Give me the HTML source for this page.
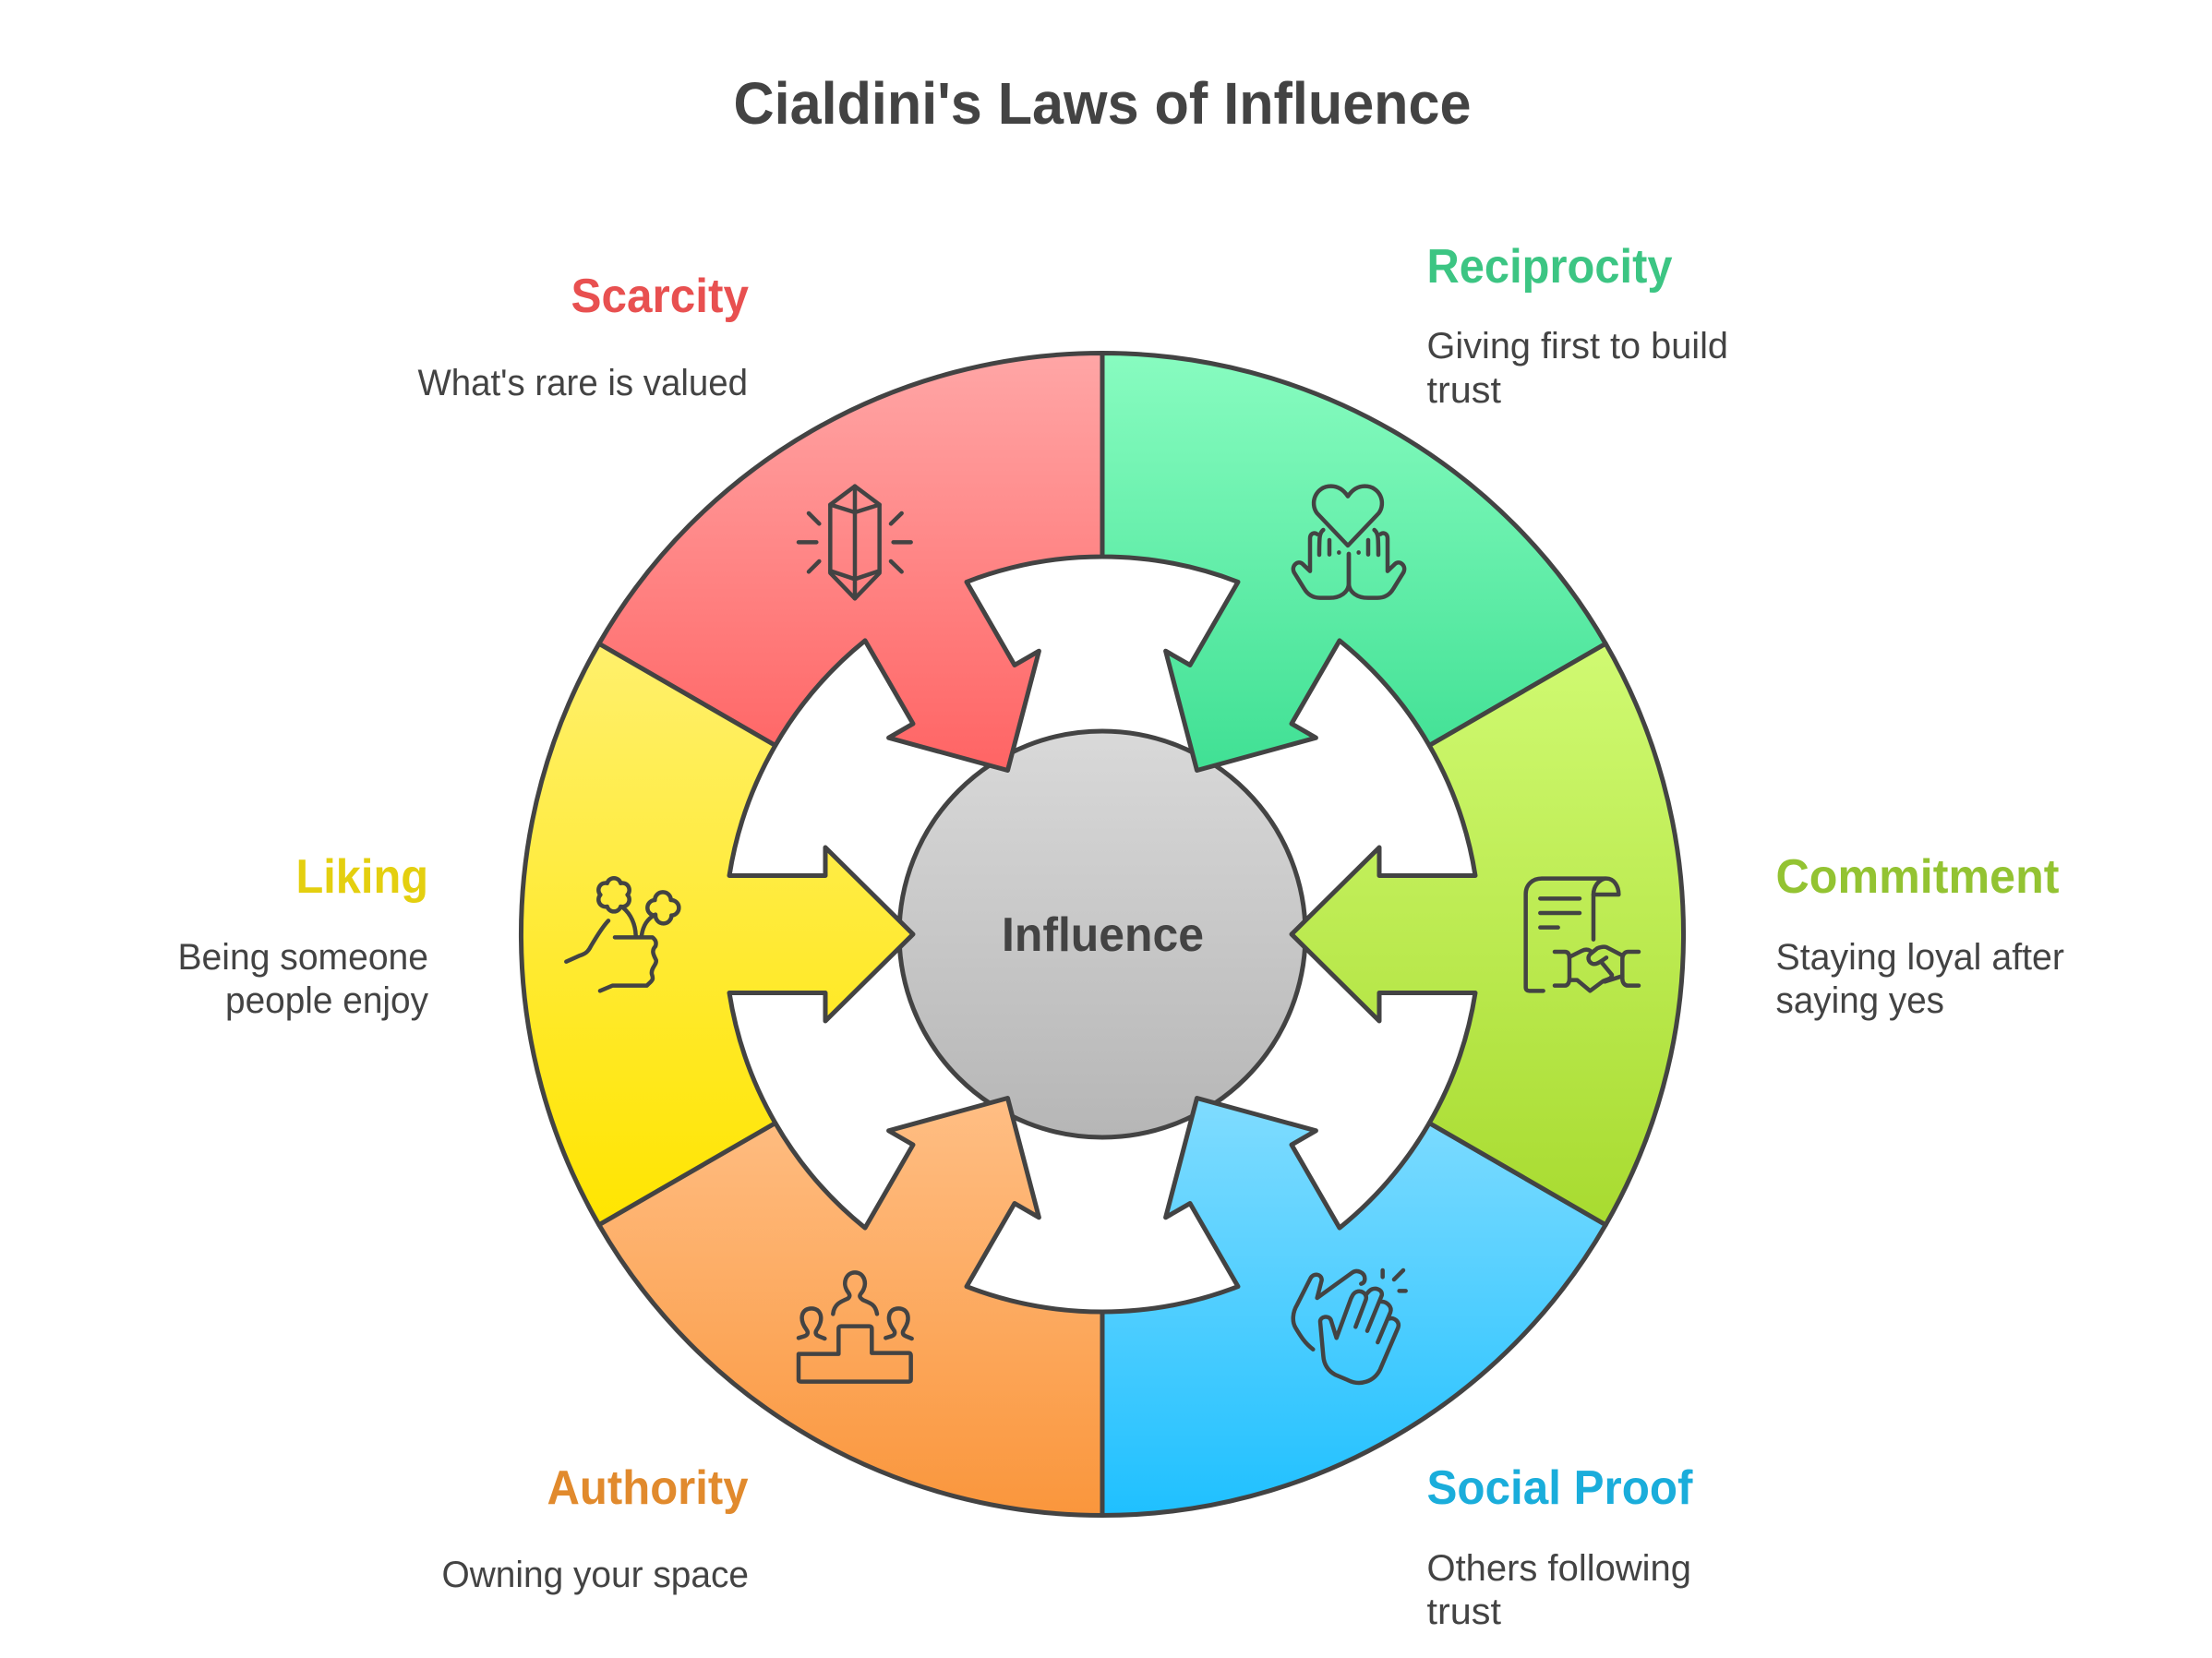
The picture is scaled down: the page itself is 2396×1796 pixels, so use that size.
<!DOCTYPE html>
<html>
<head>
<meta charset="utf-8">
<title>Cialdini's Laws of Influence</title>
<style>
html,body{margin:0;padding:0;background:#fff}
svg{display:block}
text{font-family:"Liberation Sans",sans-serif;white-space:pre}
.t{font-weight:700;font-size:52px}
.d{font-size:40px;fill:#434343}
.i{fill:none;stroke:#434343;stroke-width:13.5;stroke-linecap:round;stroke-linejoin:round}
</style>
</head>
<body>
<svg xmlns="http://www.w3.org/2000/svg" width="2396" height="1796" viewBox="0 0 2396 1796">
<defs>
<linearGradient id="gG" x1="0" y1="0" x2="0" y2="1"><stop offset="0" stop-color="#88fcc0"/><stop offset="1" stop-color="#40e094"/></linearGradient>
<linearGradient id="gR" x1="0" y1="0" x2="0" y2="1"><stop offset="0" stop-color="#ffa6a6"/><stop offset="1" stop-color="#ff6464"/></linearGradient>
<linearGradient id="gL" x1="0" y1="0" x2="0" y2="1"><stop offset="0" stop-color="#d0fa72"/><stop offset="1" stop-color="#a8db30"/></linearGradient>
<linearGradient id="gY" x1="0" y1="0" x2="0" y2="1"><stop offset="0" stop-color="#fff06c"/><stop offset="1" stop-color="#ffe500"/></linearGradient>
<linearGradient id="gB" x1="0" y1="0" x2="0" y2="1"><stop offset="0" stop-color="#1fc0ff"/><stop offset="1" stop-color="#80dcff"/></linearGradient>
<linearGradient id="gO" x1="0" y1="0" x2="0" y2="1"><stop offset="0" stop-color="#fa963c"/><stop offset="1" stop-color="#ffbe84"/></linearGradient>
<linearGradient id="gC" x1="0" y1="0" x2="0" y2="1"><stop offset="0" stop-color="#d9d9d9"/><stop offset="1" stop-color="#b6b6b6"/></linearGradient>
</defs>
<rect width="2396" height="1796" fill="#fff"/>

<text x="794.5" y="134" font-size="64" font-weight="700" fill="#434343" textLength="799" lengthAdjust="spacingAndGlyphs">Cialdini's Laws of Influence</text>

<g transform="translate(1194,1012)" stroke="#434343" stroke-width="5" stroke-linejoin="round">
<circle r="220" fill="url(#gC)"/>
<path fill="url(#gG)" d="M0 -629.5 A629.5 629.5 0 0 1 545.2 -314.75 L354.2 -204.5 A409 409 0 0 0 257 -318.1 L205 -228.05 L231.4 -212.8 L102.5 -177.5 L68.6 -306.8 L95 -291.55 L147 -381.6 A409 409 0 0 0 0 -409 Z"/>
<path fill="url(#gR)" transform="scale(-1,1)" d="M0 -629.5 A629.5 629.5 0 0 1 545.2 -314.75 L354.2 -204.5 A409 409 0 0 0 257 -318.1 L205 -228.05 L231.4 -212.8 L102.5 -177.5 L68.6 -306.8 L95 -291.55 L147 -381.6 A409 409 0 0 0 0 -409 Z"/>
<path fill="url(#gB)" transform="scale(1,-1)" d="M0 -629.5 A629.5 629.5 0 0 1 545.2 -314.75 L354.2 -204.5 A409 409 0 0 0 257 -318.1 L205 -228.05 L231.4 -212.8 L102.5 -177.5 L68.6 -306.8 L95 -291.55 L147 -381.6 A409 409 0 0 0 0 -409 Z"/>
<path fill="url(#gO)" transform="scale(-1,-1)" d="M0 -629.5 A629.5 629.5 0 0 1 545.2 -314.75 L354.2 -204.5 A409 409 0 0 0 257 -318.1 L205 -228.05 L231.4 -212.8 L102.5 -177.5 L68.6 -306.8 L95 -291.55 L147 -381.6 A409 409 0 0 0 0 -409 Z"/>
<path fill="url(#gL)" d="M545.2 -314.75 A629.5 629.5 0 0 1 545.2 314.75 L354.2 204.5 A409 409 0 0 0 404 63.5 L300 63.5 L300 94 L205 0 L300 -94 L300 -63.5 L404 -63.5 A409 409 0 0 0 354.2 -204.5 Z"/>
<path fill="url(#gY)" transform="scale(-1,1)" d="M545.2 -314.75 A629.5 629.5 0 0 1 545.2 314.75 L354.2 204.5 A409 409 0 0 0 404 63.5 L300 63.5 L300 94 L205 0 L300 -94 L300 -63.5 L404 -63.5 A409 409 0 0 0 354.2 -204.5 Z"/>
</g>

<text x="1085" y="1030" font-size="52" font-weight="700" fill="#434343" textLength="219" lengthAdjust="spacingAndGlyphs">Influence</text>

<!-- Crystal -->
<g class="i" transform="translate(820,480) scale(.3333)">
<path d="M318 140 L398 200 V422 L318 505 L238 422 V200 Z"/>
<path d="M238 200 L318 225 L398 200"/>
<path d="M238 415 L318 442 L398 415"/>
<path d="M318 140 V505"/>
<path d="M168 228 L202 262 M135 322 H193 M168 418 L202 384 M470 228 L435 262 M443 322 H500 M470 418 L435 384"/>
</g>

<!-- Heart hands -->
<g class="i" transform="translate(1380,490) scale(.3333)">
<path d="M240 303 L140 198 C115 165 135 110 185 110 C210 110 228 125 240 143 C252 125 270 110 295 110 C345 110 365 165 340 198 Z"/>
<path d="M243 330 V425 C243 455 215 473 180 473 H150 C125 473 108 460 98 443 L65 390 C55 368 78 350 92 362 L117 386 V280 C117 265 130 258 140 266"/>
<path d="M160 252 C148 262 147 270 147 333 M180 285 V332 M211 325 v1"/>
<g transform="translate(486,0) scale(-1,1)">
<path d="M243 330 V425 C243 455 215 473 180 473 H150 C125 473 108 460 98 443 L65 390 C55 368 78 350 92 362 L117 386 V280 C117 265 130 258 140 266"/>
<path d="M160 252 C148 262 147 270 147 333 M180 285 V332 M211 325 v1"/>
</g>
</g>

<!-- Document handshake -->
<g class="i" transform="translate(1620,920) scale(.3333)">
<path d="M155 460 H110 Q98 460 98 448 V145 C98 115 120 95 150 95 H360 C385 95 400 120 400 147 H318 V293"/>
<path d="M318 147 C318 120 335 100 355 95"/>
<path d="M145 160 H273 M145 207 H273 M145 254 H203"/>
<path d="M192 333 H225 C238 333 240 345 240 355 V420 C240 432 235 443 225 443 H192"/>
<path d="M465 333 H430 C418 333 412 345 412 355 V420 C412 432 418 443 430 443 H465"/>
<path d="M240 350 L280 330 C290 325 300 325 308 330"/>
<path d="M412 345 L360 318 C350 315 340 318 330 322 L308 340 C298 350 300 365 315 372 C325 375 335 370 360 352"/>
<path d="M345 368 L378 408 C378 420 365 422 350 428 L307 460 L265 425 L242 425"/>
<path d="M355 430 L412 412"/>
</g>

<!-- Clapping -->
<g class="i" transform="translate(1380,1360) scale(.3333)">
<path d="M127 305 C100 285 85 260 70 235 C58 215 60 185 75 160 L118 75 C128 55 155 60 155 80 L140 138 L255 55 C270 45 295 55 295 75 C295 85 290 90 283 92"/>
<path d="M265 232 L298 145 C305 125 285 112 268 118 C258 122 255 130 250 140 L203 268 L185 210 C178 193 150 198 150 215 L160 325 C162 355 175 375 200 388 L240 405 C280 425 325 410 345 370 L403 235 C410 215 390 200 375 205"/>
<path d="M337 282 L378 185 C385 165 365 150 350 150"/>
<path d="M303 245 L350 130 C355 110 325 100 310 115 C305 120 300 125 298 130"/>
<path d="M353 48 V70 M390 78 L420 48 M407 115 H428"/>
</g>

<!-- Podium -->
<g class="i" transform="translate(840,1360) scale(.3333)">
<path d="M75 320 H205 V238 Q205 230 213 230 H305 Q313 230 313 238 V317 H433 Q440 317 440 325 V403 Q440 410 433 410 H83 Q75 410 75 403 Z"/>
<path d="M187 190 C190 160 210 150 235 140 C245 132 240 125 235 118 C215 90 230 55 258 55 C288 55 300 90 282 118 C272 130 270 135 285 145 C310 155 325 160 330 190"/>
<path d="M75 268 L95 262 C105 258 108 250 100 240 C75 205 85 172 117 172 C148 172 158 205 135 240 C128 250 130 258 140 262 L160 270"/>
<path transform="translate(283,0)" d="M75 268 L95 262 C105 258 108 250 100 240 C75 205 85 172 117 172 C148 172 158 205 135 240 C128 250 130 258 140 262 L160 270"/>
</g>

<!-- Flower hand -->
<g class="i" transform="translate(590,930) scale(.3333)">
<path d="M247 80 A23 23 0 0 1 269 118 A23 23 0 0 1 247 156 A23 23 0 0 1 203 156 A23 23 0 0 1 181 118 A23 23 0 0 1 203 80 A23 23 0 0 1 247 80 Z"/>
<path d="M410 135 A25 25 0 0 1 412 185 A25 25 0 0 1 360 185 A25 25 0 0 1 358 135 A25 25 0 0 1 410 135 Z"/>
<path d="M296 250 C295 215 280 180 255 160 M315 250 C320 215 335 195 360 182"/>
<path d="M228 256 H350 C358 262 365 270 360 285 C345 300 355 315 362 330 C365 345 345 355 348 375 C355 395 350 395 332 413 H220 L180 430"/>
<path d="M207 202 C185 225 165 260 150 285 C140 305 130 310 115 315 L70 335"/>
</g>

<!-- Labels -->
<text class="t" x="618.5" y="338" fill="#e85050" textLength="192.5" lengthAdjust="spacingAndGlyphs">Scarcity</text>
<text class="d" x="452.5" y="428" textLength="357.5" lengthAdjust="spacingAndGlyphs">What's rare is valued</text>

<text class="t" x="1545.5" y="306" fill="#3cc583" textLength="266" lengthAdjust="spacingAndGlyphs">Reciprocity</text>
<text class="d" x="1545.5" y="388" textLength="326.5" lengthAdjust="spacingAndGlyphs">Giving first to build</text>
<text class="d" x="1545.5" y="436" textLength="80.5" lengthAdjust="spacingAndGlyphs">trust</text>

<text class="t" x="1923.5" y="967" fill="#93c332" textLength="307" lengthAdjust="spacingAndGlyphs">Commitment</text>
<text class="d" x="1923.5" y="1050" textLength="312.5" lengthAdjust="spacingAndGlyphs">Staying loyal after</text>
<text class="d" x="1923.5" y="1097" textLength="182.5" lengthAdjust="spacingAndGlyphs">saying yes</text>

<text class="t" x="1545.5" y="1629" fill="#1aaddb" textLength="288" lengthAdjust="spacingAndGlyphs">Social Proof</text>
<text class="d" x="1545.5" y="1712" textLength="286.5" lengthAdjust="spacingAndGlyphs">Others following</text>
<text class="d" x="1545.5" y="1759" textLength="80.5" lengthAdjust="spacingAndGlyphs">trust</text>

<text class="t" x="592.5" y="1629" fill="#e18a2d" textLength="218" lengthAdjust="spacingAndGlyphs">Authority</text>
<text class="d" x="478.5" y="1719" textLength="332.5" lengthAdjust="spacingAndGlyphs">Owning your space</text>

<text class="t" x="320.5" y="967" fill="#e4cf0f" textLength="143.5" lengthAdjust="spacingAndGlyphs">Liking</text>
<text class="d" x="192.5" y="1050" textLength="271.5" lengthAdjust="spacingAndGlyphs">Being someone</text>
<text class="d" x="244" y="1097" textLength="220" lengthAdjust="spacingAndGlyphs">people enjoy</text>
</svg>
</body>
</html>
